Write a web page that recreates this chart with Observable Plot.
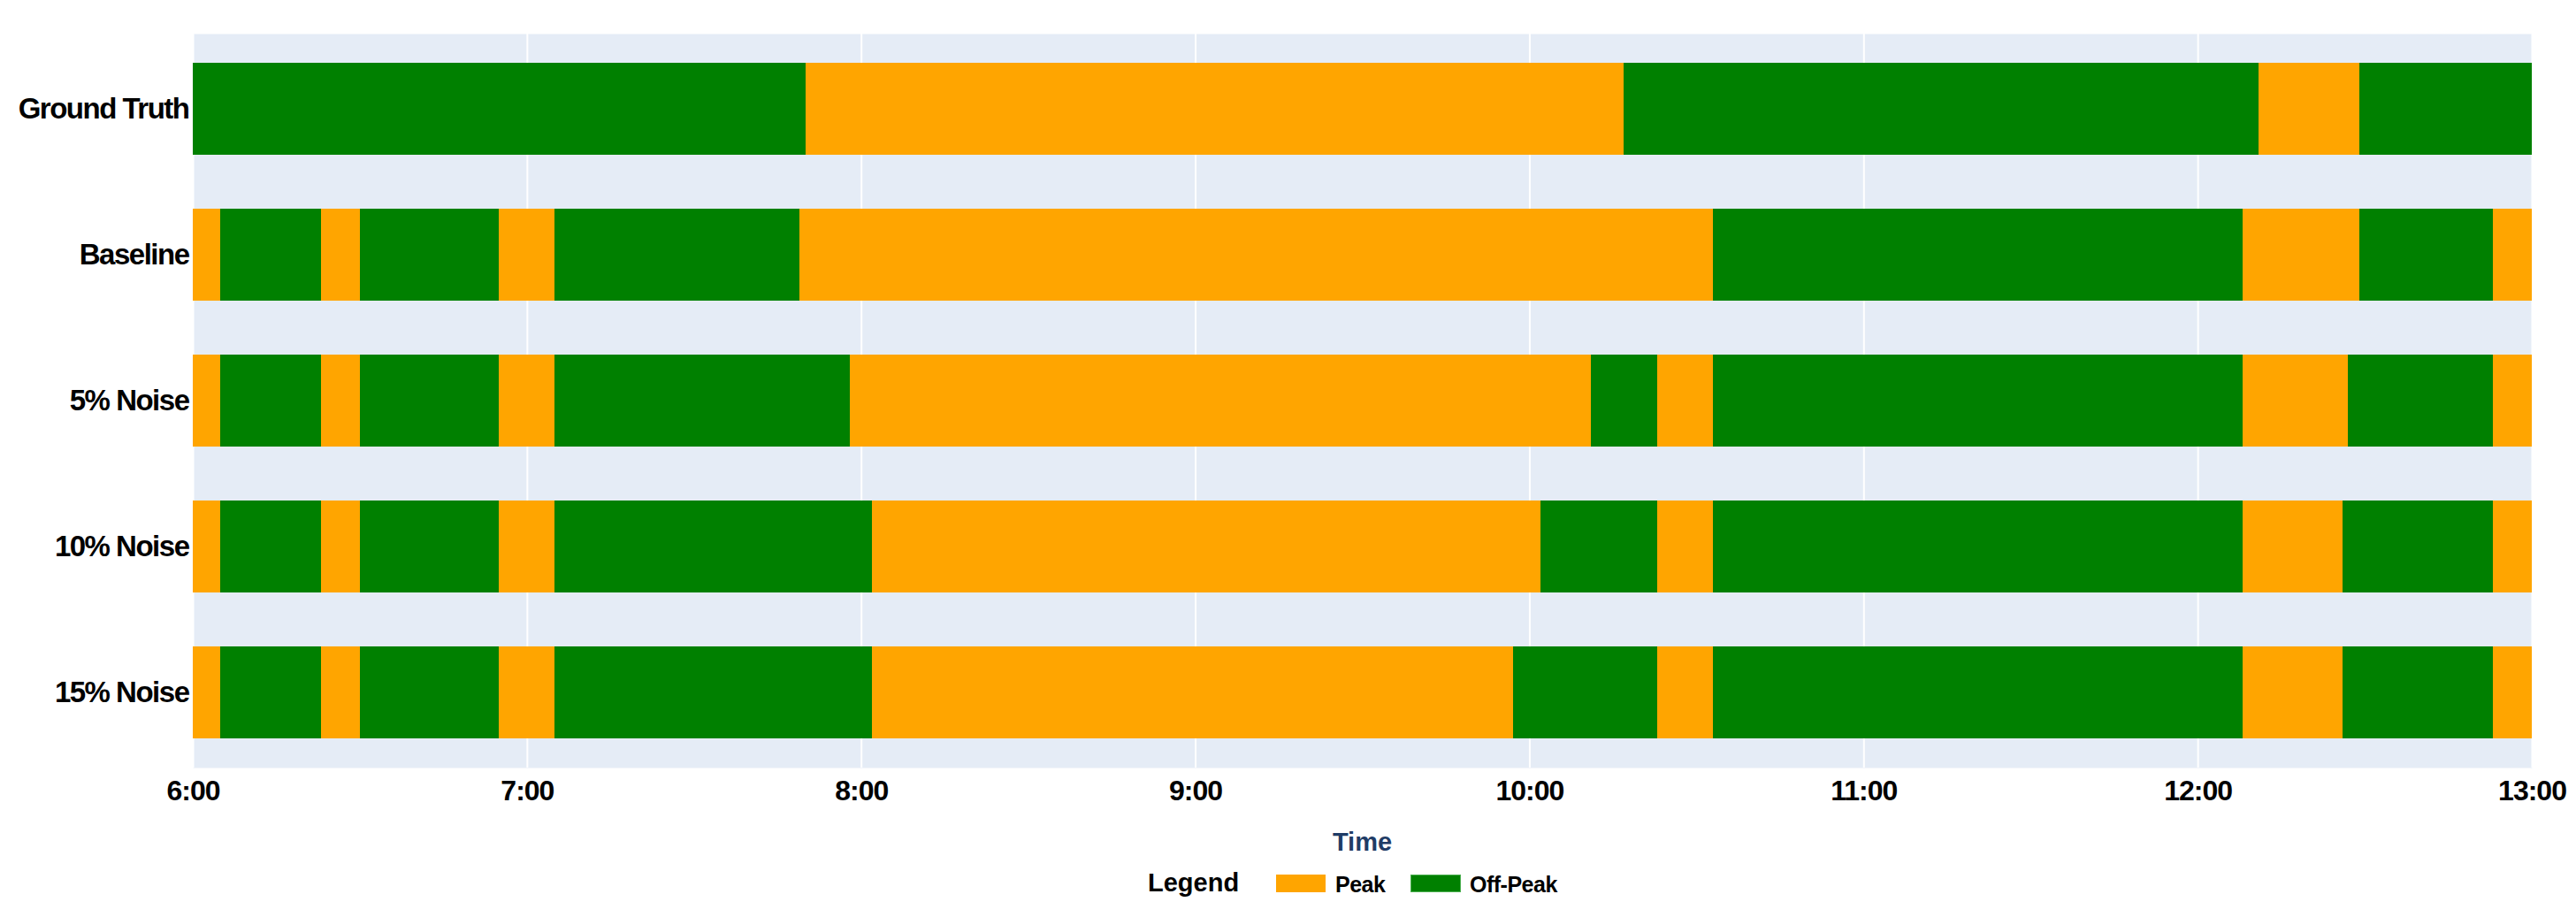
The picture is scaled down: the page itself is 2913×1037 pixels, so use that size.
<!DOCTYPE html>
<html>
<head>
<meta charset="utf-8">
<script src="https://cdn.jsdelivr.net/npm/d3@7"></script>
<script src="https://cdn.jsdelivr.net/npm/@observablehq/plot@0.6"></script>
<style>
  html, body { margin: 0; padding: 0; background: white; }
  body { position: relative; width: 2913px; height: 1037px; overflow: hidden; font-family: "Liberation Sans", Arial, sans-serif; }
  #chart { position: absolute; left: 0; top: 0; }
  g[aria-label="y-axis tick label"] text { letter-spacing: -1.5px; }
  g[aria-label="x-axis tick label"] text { letter-spacing: -1px; }
  .abs { position: absolute; line-height: 1; white-space: nowrap; font-weight: bold; }
  #xtitle { left: 218px; width: 2645px; text-align: center; top: 938px; font-size: 29px; color: #1f3c66; }
  #legTitle { left: 1298px; top: 984px; font-size: 29px; color: #000; }
  .sw { position: absolute; top: 989px; height: 20px; }
  .legLab { top: 988px; font-size: 25px; color: #000; letter-spacing: -0.5px; }
</style>
</head>
<body>
<div id="chart"></div>
<div id="xtitle" class="abs">Time</div>
<div id="legTitle" class="abs">Legend</div>
<div class="sw" style="left:1443px;width:56px;background:#FFA500;"></div>
<div class="abs legLab" style="left:1510px;">Peak</div>
<div class="sw" style="left:1595px;width:57px;background:#008000;box-shadow: inset 0 0 0 1px #4caf50;"></div>
<div class="abs legLab" style="left:1662px;">Off-Peak</div>
<script>
// ---- Data ----
const rows = ["Ground Truth", "Baseline", "5% Noise", "10% Noise", "15% Noise"];
const states = ["Peak", "Off-Peak"];
const stateColors = ["#FFA500", "#008000"];
const hourTicks = ["6:00", "7:00", "8:00", "9:00", "10:00", "11:00", "12:00", "13:00"];

// each entry: [start, end, state]
const groundTruth = [
  ["6:00", "7:50", "Off-Peak"], ["7:50", "10:17", "Peak"], ["10:17", "12:11", "Off-Peak"],
  ["12:11", "12:29", "Peak"], ["12:29", "13:00", "Off-Peak"]
];
const baseline = [
  ["6:00", "6:05", "Peak"], ["6:05", "6:23", "Off-Peak"], ["6:23", "6:30", "Peak"],
  ["6:30", "6:55", "Off-Peak"], ["6:55", "7:05", "Peak"], ["7:05", "7:49", "Off-Peak"],
  ["7:49", "10:33", "Peak"], ["10:33", "12:08", "Off-Peak"], ["12:08", "12:29", "Peak"],
  ["12:29", "12:53", "Off-Peak"], ["12:53", "13:00", "Peak"]
];
const noise5 = [
  ["6:00", "6:05", "Peak"], ["6:05", "6:23", "Off-Peak"], ["6:23", "6:30", "Peak"],
  ["6:30", "6:55", "Off-Peak"], ["6:55", "7:05", "Peak"], ["7:05", "7:58", "Off-Peak"],
  ["7:58", "10:11", "Peak"], ["10:11", "10:23", "Off-Peak"], ["10:23", "10:33", "Peak"],
  ["10:33", "12:08", "Off-Peak"], ["12:08", "12:27", "Peak"], ["12:27", "12:53", "Off-Peak"],
  ["12:53", "13:00", "Peak"]
];
const noise10 = [
  ["6:00", "6:05", "Peak"], ["6:05", "6:23", "Off-Peak"], ["6:23", "6:30", "Peak"],
  ["6:30", "6:55", "Off-Peak"], ["6:55", "7:05", "Peak"], ["7:05", "8:02", "Off-Peak"],
  ["8:02", "10:02", "Peak"], ["10:02", "10:23", "Off-Peak"], ["10:23", "10:33", "Peak"],
  ["10:33", "12:08", "Off-Peak"], ["12:08", "12:26", "Peak"], ["12:26", "12:53", "Off-Peak"],
  ["12:53", "13:00", "Peak"]
];
const noise15 = [
  ["6:00", "6:05", "Peak"], ["6:05", "6:23", "Off-Peak"], ["6:23", "6:30", "Peak"],
  ["6:30", "6:55", "Off-Peak"], ["6:55", "7:05", "Peak"], ["7:05", "8:02", "Off-Peak"],
  ["8:02", "9:57", "Peak"], ["9:57", "10:23", "Off-Peak"], ["10:23", "10:33", "Peak"],
  ["10:33", "12:08", "Off-Peak"], ["12:08", "12:26", "Peak"], ["12:26", "12:53", "Off-Peak"],
  ["12:53", "13:00", "Peak"]
];
const series = [groundTruth, baseline, noise5, noise10, noise15];

// ---- Build table ----
const T = s => { const [h, m] = s.split(":").map(Number); return new Date(2024, 0, 1, h, m); };
const table = [];
series.forEach((segs, i) => segs.forEach(([a, b, st]) => table.push({row: rows[i], start: T(a), end: T(b), state: st})));
const ticks = hourTicks.map(T);
const fmt = d3.timeFormat("%-H:%M");

const chart = Plot.plot({
  width: 2913,
  height: 930,
  marginLeft: 218,
  marginRight: 50,
  marginTop: 38,
  marginBottom: 62,
  style: {background: "white", fontFamily: "'Liberation Sans', Arial, sans-serif", overflow: "visible"},
  x: {type: "time", domain: [ticks[0], ticks[ticks.length - 1]]},
  y: {domain: rows, paddingInner: 0.371, paddingOuter: 0.2},
  color: {domain: states, range: stateColors},
  marks: [
    Plot.frame({fill: "#E5ECF6", stroke: "none"}),
    Plot.gridX(ticks, {stroke: "white", strokeOpacity: 1, strokeWidth: 2}),
    Plot.barX(table, {y: "row", x1: "start", x2: "end", fill: "state", inset: 0, shapeRendering: "crispEdges"}),
    Plot.axisX(ticks, {tickSize: 0, tickPadding: 14, fontSize: 32, fontWeight: "bold", fill: "black", label: null, tickFormat: fmt}),
    Plot.axisY({tickSize: 0, tickPadding: 5, fontSize: 33, fontWeight: "bold", fill: "black", label: null})
  ]
});
document.getElementById("chart").appendChild(chart);
</script>
</body>
</html>
